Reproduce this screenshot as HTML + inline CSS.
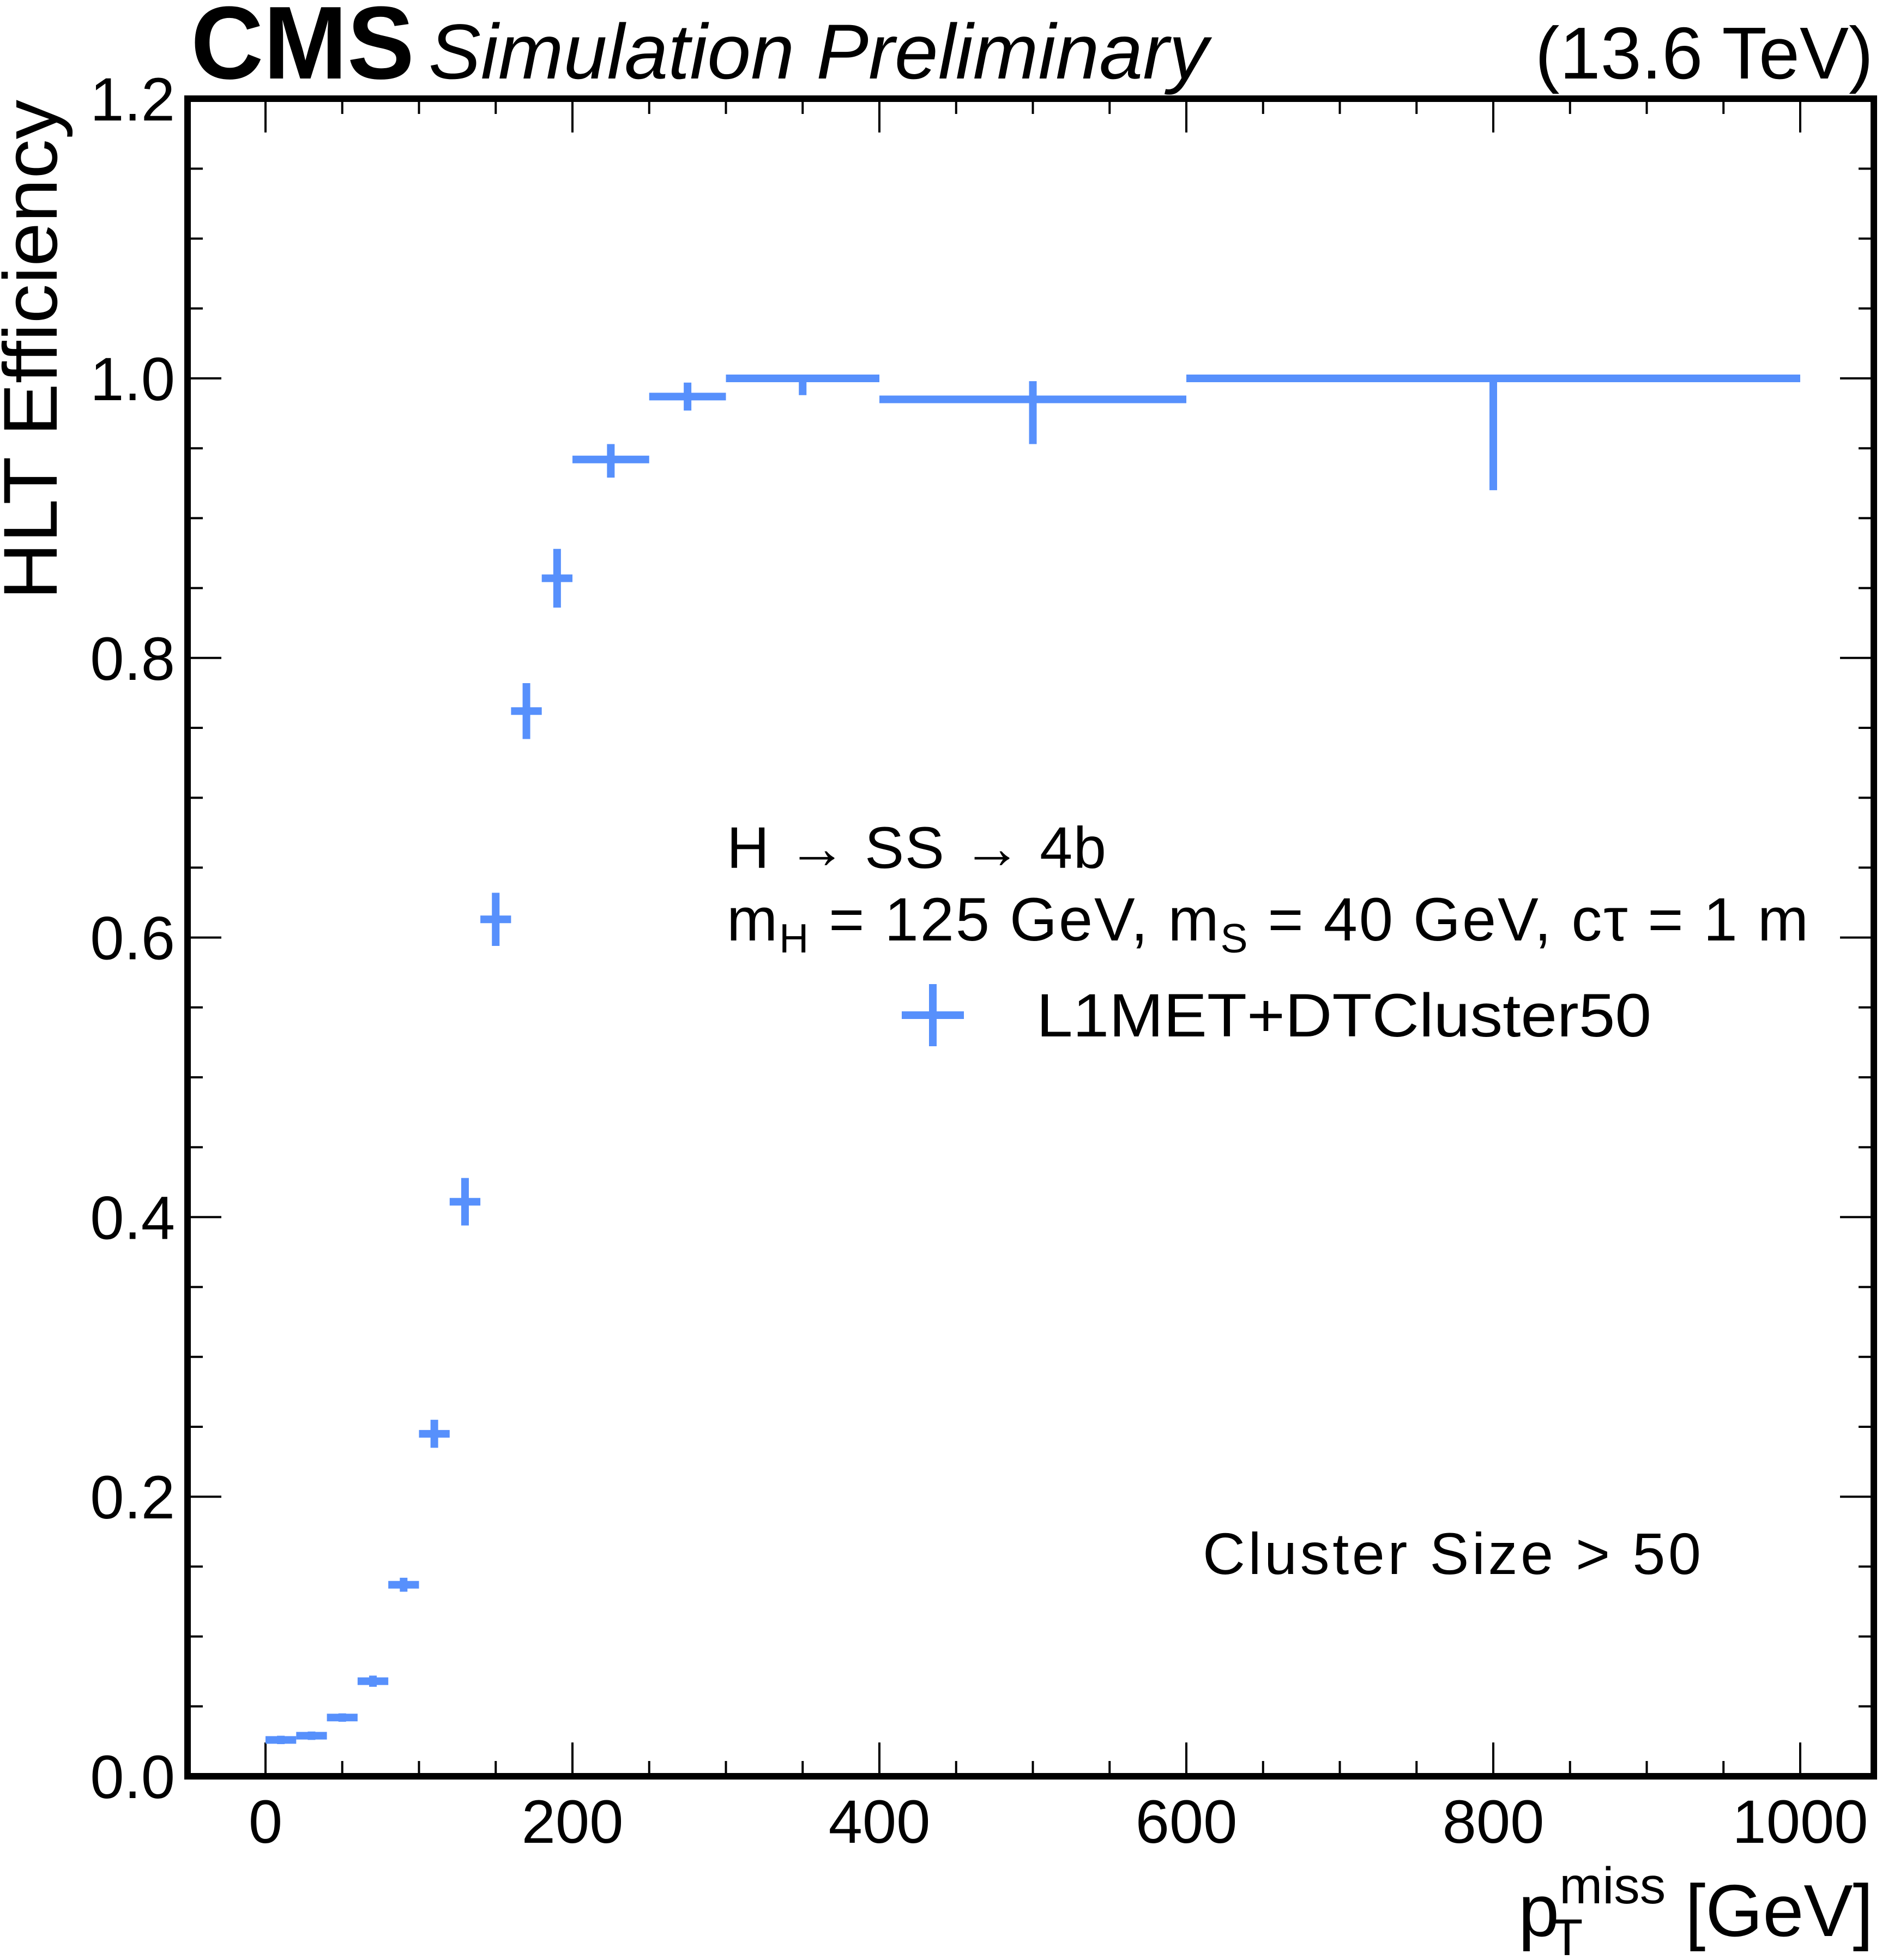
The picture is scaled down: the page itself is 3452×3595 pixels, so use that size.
<!DOCTYPE html>
<html><head><meta charset="utf-8"><style>
html,body{margin:0;padding:0;background:#fff}
svg{display:block}
text{font-family:"Liberation Sans",sans-serif;fill:#000}
</style></head><body>
<svg id="chart" width="3452" height="3595" viewBox="0 0 3452 3595" xmlns="http://www.w3.org/2000/svg">
<text x="350" y="144" font-size="190" font-weight="bold" textLength="410" lengthAdjust="spacingAndGlyphs">CMS</text>
<text x="786" y="144" font-size="143" font-style="italic" textLength="1430" lengthAdjust="spacingAndGlyphs">Simulation Preliminary</text>
<text x="3436" y="144" font-size="135" text-anchor="end">(13.6 TeV)</text>
<g id="ticks"></g>
<g id="marks"></g>
<rect x="344" y="181" width="3093" height="3077" fill="none" stroke="#000" stroke-width="12"/>
<text transform="translate(104,183) rotate(-90)" font-size="140" text-anchor="end" textLength="917" lengthAdjust="spacingAndGlyphs">HLT Efficiency</text>
<text x="3436" y="3551" font-size="135" text-anchor="end">p<tspan font-size="95" dy="-60">miss</tspan><tspan font-size="95" dx="-210" dy="95">T</tspan><tspan dy="-35" dx="150"> [GeV]</tspan></text>
<text x="1333" y="1592" font-size="108" textLength="696" lengthAdjust="spacing">H → SS → 4b</text>
<text x="1333" y="1725" font-size="112" textLength="1984" lengthAdjust="spacing">m<tspan font-size="75" dy="22">H</tspan><tspan dy="-22"> = 125 GeV, m</tspan><tspan font-size="75" dy="22">S</tspan><tspan dy="-22"> = 40 GeV, cτ = 1 m</tspan></text>
<g>
<line x1="1654" y1="1862" x2="1768" y2="1862" stroke="#5790fc" stroke-width="14"/>
<line x1="1711" y1="1805" x2="1711" y2="1919" stroke="#5790fc" stroke-width="14"/>
<text x="1901" y="1901" font-size="112" textLength="1128" lengthAdjust="spacingAndGlyphs">L1MET+DTCluster50</text>
</g>
<text x="2206" y="2887" font-size="108" textLength="914" lengthAdjust="spacing">Cluster Size &gt; 50</text>
</svg>
<script>
const binLow = [0,20,40,60,80,100,120,140,160,180,200,250,300,400,600];
const binHigh = [20,40,60,80,100,120,140,160,180,200,250,300,400,600,1000];
const effValues = [0.026,0.029,0.042,0.068,0.137,0.245,0.411,0.613,0.762,0.857,0.942,0.987,1.0,0.985,1.0];
const errUp = [0.003,0.003,0.003,0.004,0.005,0.010,0.017,0.019,0.020,0.021,0.011,0.010,0.0,0.013,0.0];
const errDown = [0.003,0.003,0.003,0.004,0.005,0.010,0.017,0.019,0.020,0.021,0.013,0.010,0.012,0.032,0.080];
const xTickLabels = [0,200,400,600,800,1000];
const yTickLabels = ["0.0","0.2","0.4","0.6","0.8","1.0","1.2"];

const NS="http://www.w3.org/2000/svg";
const X0=487, X1=3302, Y0=3258, Y1=694;
function xs(v){return X0+(X1-X0)*v/1000;}
function ys(v){return Y0-(Y0-Y1)*v;}
function mk(tag,attrs,parent){const e=document.createElementNS(NS,tag);for(const k in attrs)e.setAttribute(k,attrs[k]);parent.appendChild(e);return e;}
const ticks=document.getElementById('ticks');
const marks=document.getElementById('marks');
for(let v=0;v<=1000;v+=50){
  const major=v%200===0;const L=major?62:28;
  const b=mk('line',{x1:xs(v),x2:xs(v),y1:3258,y2:3258-L,stroke:'#000','stroke-width':4},ticks);
  
  
  const t=mk('line',{x1:xs(v),x2:xs(v),y1:181,y2:181+L,stroke:'#000','stroke-width':4},ticks);
  
  
}
xTickLabels.forEach(v=>{
  const t=mk('text',{x:xs(v),y:3380,'font-size':112,'text-anchor':'middle'},ticks);
  t.textContent=v;
  
  
});
for(let i=0;i<=24;i++){
  const v=i*0.05;const major=i%4===0;const L=major?62:28;
  const l=mk('line',{x1:344,x2:344+L,y1:ys(v),y2:ys(v),stroke:'#000','stroke-width':4},ticks);
  
  
  const r=mk('line',{x1:3437,x2:3437-L,y1:ys(v),y2:ys(v),stroke:'#000','stroke-width':4},ticks);
  
  
}
yTickLabels.forEach(s=>{
  const t=mk('text',{x:321,y:ys(parseFloat(s))+40,'font-size':112,'text-anchor':'end'},ticks);
  t.textContent=s;
  
  
});
effValues.forEach((v,i)=>{
  const c=(binLow[i]+binHigh[i])/2;
  const h=mk('line',{x1:xs(binLow[i]),x2:xs(binHigh[i]),y1:ys(v),y2:ys(v),stroke:'#5790fc','stroke-width':14},marks);
  
  
  const e=mk('line',{x1:xs(c),x2:xs(c),y1:ys(v+errUp[i]),y2:ys(v-errDown[i]),stroke:'#5790fc','stroke-width':14},marks);
  
  
});
</script>
</body></html>
